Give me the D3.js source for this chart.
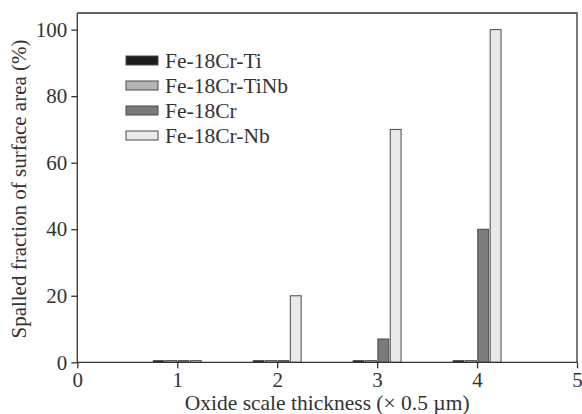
<!DOCTYPE html>
<html>
<head>
<meta charset="utf-8">
<script src="https://cdn.jsdelivr.net/npm/d3@7"></script>
<style>
    body { margin: 0; background: #fff; }
    svg text { font-family: "Liberation Serif", "DejaVu Serif", serif; fill: #333; }
</style>
</head>
<body>
<div id="plot"></div>
<script>
// Data.
var thickness = [1, 2, 3, 4];
var series_names = ["Fe-18Cr-Ti", "Fe-18Cr-TiNb", "Fe-18Cr", "Fe-18Cr-Nb"];
var ti_values   = [0.5, 0.5, 0.5, 0.5];
var tinb_values = [0.5, 0.5, 0.5, 0.5];
var cr_values   = [0.5, 0.5, 7, 40];
var nb_values   = [0.5, 20, 70, 100];
var series_colors = ["#1c1c1c", "#b4b4b4", "#7a7a7a", "#e9e9e9"];
var x_ticks = [0, 1, 2, 3, 4, 5];
var y_ticks = [0, 20, 40, 60, 80, 100];

// Canvas dimensions (note: "top" is taken by window.top, hence the prefixes).
var width = 582, height = 414;
var plot_left = 77.3, plot_right = 577, plot_top = 13, plot_bottom = 362.3;

var svg = d3.select("div#plot").append("svg")
    .attr("width", width)
    .attr("height", height);

var x_scale = d3.scaleLinear().domain([0, 5]).range([plot_left, plot_right]);
var y_scale = d3.scaleLinear().domain([0, 105]).range([plot_bottom, plot_top]);

// Bar offset inside one group, in axis units.
var offset = d3.scaleBand()
    .domain(series_names)
    .range([-0.24, 0.24])
    .paddingInner(0.12);

var all_values = [ti_values, tinb_values, cr_values, nb_values];
var bars = [];
series_names.forEach(function(name, s) {
    thickness.forEach(function(t, i) {
        bars.push({ name: name, s: s, x: t, y: all_values[s][i] });
    });
});

// Bars.
svg.append("g")
    .attr("id", "bars")
    .selectAll("rect")
        .data(bars)
        .join("rect")
            .attr("x", d => x_scale(d.x + offset(d.name)))
            .attr("width", d => x_scale(offset.bandwidth()) - x_scale(0))
            .attr("y", d => y_scale(d.y))
            .attr("height", d => y_scale(0) - y_scale(d.y))
            .style("fill", d => series_colors[d.s])
            .style("stroke", "#4a4a4a")
            .style("stroke-width", 1);

// Frame (top and right sides).
svg.append("path")
    .attr("d", "M" + plot_left + "," + plot_top + "H" + plot_right + "V" + plot_bottom)
    .style("fill", "none")
    .style("stroke", "#333")
    .style("stroke-width", 1.3);

// X axis.
var x_axis = svg.append("g")
    .attr("id", "x_axis")
    .attr("transform", "translate(0, " + plot_bottom + ")")
    .call(d3.axisBottom(x_scale).tickValues(x_ticks).tickFormat(d3.format("d"))
        .tickSizeInner(6).tickSizeOuter(0).tickPadding(4));

// Y axis.
var y_axis = svg.append("g")
    .attr("id", "y_axis")
    .attr("transform", "translate(" + plot_left + ", 0)")
    .call(d3.axisLeft(y_scale).tickValues(y_ticks).tickFormat(d3.format("d"))
        .tickSizeInner(6).tickSizeOuter(0).tickPadding(4));

svg.selectAll("#x_axis path, #y_axis path, #x_axis line, #y_axis line")
    .style("stroke", "#333")
    .style("stroke-width", 1.3);

svg.selectAll("#x_axis text, #y_axis text")
    .style("font-family", "Liberation Serif, serif")
    .style("font-size", "21px")
    .style("fill", "#333");

// Y axis path runs to the frame top.
y_axis.select("path").attr("d", "M0," + plot_bottom + "V" + plot_top);
x_axis.select("path").attr("d", "M" + plot_left + ",0H" + plot_right);

// Axis titles.
svg.append("text")
    .attr("x", (plot_left + plot_right) / 2)
    .attr("y", 410)
    .attr("text-anchor", "middle")
    .style("font-size", "21.5px")
    .text("Oxide scale thickness (\u00d7 0.5 \u00b5m)");

svg.append("text")
    .attr("transform", "translate(26, 189) rotate(-90)")
    .attr("text-anchor", "middle")
    .style("font-size", "21px")
    .text("Spalled fraction of surface area (%)");

// Legend.
var legend = svg.append("g")
    .attr("id", "legend")
    .selectAll("g")
        .data(series_names)
        .join("g")
            .attr("transform", (d, i) => "translate(126, " + (60.5 + i * 25) + ")");

legend.append("rect")
    .attr("x", 0)
    .attr("y", -4.5)
    .attr("width", 32)
    .attr("height", 9)
    .style("fill", (d, i) => series_colors[i])
    .style("stroke", "#4a4a4a")
    .style("stroke-width", 1);

legend.append("text")
    .attr("x", 39)
    .attr("y", 7)
    .style("font-size", "21.5px")
    .text(d => d);
</script>
</body>
</html>
